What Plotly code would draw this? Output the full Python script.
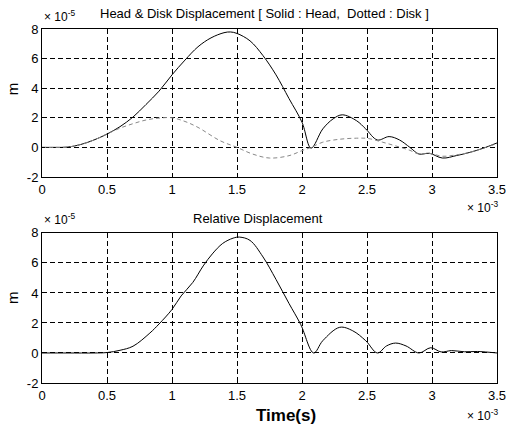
import plotly.graph_objects as go

# time in units of 1e-3 s, displacement in units of 1e-5 m
head_t = [0, 0.1, 0.2, 0.3, 0.4, 0.5, 0.6, 0.7, 0.8, 0.9, 1.0, 1.1, 1.2, 1.3, 1.4, 1.45,
          1.5, 1.6, 1.7, 1.8, 1.9, 2.0, 2.07, 2.16, 2.24, 2.31, 2.42, 2.49, 2.58, 2.67,
          2.75, 2.83, 2.9, 2.98, 3.08, 3.19, 3.29, 3.39, 3.5]
head_y = [0, 0, 0.02, 0.2, 0.5, 0.9, 1.4, 2.05, 2.9, 3.8, 4.9, 5.9, 6.8, 7.4, 7.75, 7.8,
          7.7, 7.2, 6.2, 4.9, 3.3, 1.7, -0.05, 1.25, 1.93, 2.2, 1.8, 1.25, 0.5, 0.73,
          0.5, 0.0, -0.45, -0.4, -0.72, -0.55, -0.34, -0.07, 0.3]

disk_t = [0, 0.1, 0.2, 0.3, 0.4, 0.5, 0.6, 0.7, 0.8, 0.9, 1.0, 1.1, 1.2, 1.37, 1.5,
          1.62, 1.75, 1.9, 2.0, 2.07, 2.16, 2.29, 2.42, 2.51, 2.62, 2.72, 2.83, 2.9,
          2.98, 3.08, 3.19, 3.29, 3.39, 3.5]
disk_y = [0, 0, 0.02, 0.2, 0.5, 0.9, 1.3, 1.6, 1.85, 1.98, 2.0, 1.75, 1.35, 0.45, 0.0,
          -0.45, -0.72, -0.56, -0.22, 0.0, 0.35, 0.55, 0.62, 0.6, 0.35, 0.1, -0.2, -0.45,
          -0.4, -0.6, -0.5, -0.34, -0.07, 0.25]

rel_t = [0, 0.2, 0.4, 0.5, 0.6, 0.7, 0.83, 0.9, 1.0, 1.07, 1.16, 1.24, 1.31, 1.39, 1.47,
         1.52, 1.6, 1.7, 1.8, 1.9, 1.99, 2.09, 2.16, 2.29, 2.39, 2.49, 2.58, 2.65, 2.72,
         2.8, 2.9, 2.99, 3.07, 3.15, 3.25, 3.35, 3.5]
rel_y = [0, 0, 0, 0.03, 0.18, 0.45, 1.33, 1.93, 2.9, 3.8, 4.7, 5.8, 6.6, 7.3, 7.65,
         7.72, 7.5, 6.4, 4.9, 3.3, 1.9, 0.0, 0.82, 1.71, 1.48, 0.82, 0.0, 0.47, 0.66,
         0.47, 0.0, 0.35, 0.07, 0.16, 0.08, 0.1, 0.0]

x_ticks = [0, 0.5, 1, 1.5, 2, 2.5, 3, 3.5]
x_labels = ['0', '0.5', '1', '1.5', '2', '2.5', '3', '3.5']
y_ticks = [-2, 0, 2, 4, 6, 8]
y_labels = ['-2', '0', '2', '4', '6', '8']

FONT = 'Liberation Sans, Arial, sans-serif'

fig = go.Figure()
fig.add_trace(go.Scatter(x=head_t, y=head_y, mode='lines', line=dict(color='black', width=1),
                         xaxis='x', yaxis='y', line_shape='spline'))
fig.add_trace(go.Scatter(x=disk_t, y=disk_y, mode='lines',
                         line=dict(color='#888888', width=1, dash='4px,3px'),
                         xaxis='x', yaxis='y', line_shape='spline'))
fig.add_trace(go.Scatter(x=rel_t, y=rel_y, mode='lines', line=dict(color='black', width=1),
                         xaxis='x2', yaxis='y2', line_shape='spline'))

axis_common = dict(showline=True, linecolor='black', linewidth=1, mirror=True,
                   showgrid=True, gridcolor='black', gridwidth=1, griddash='5px,3px',
                   zeroline=False, ticks='inside', ticklen=3, tickcolor='black',
                   automargin=False,
                   tickfont=dict(size=13, color='black', family=FONT))

fig.update_layout(
    width=511, height=424,
    margin=dict(l=42, r=14, t=29, b=41),
    paper_bgcolor='white', plot_bgcolor='white',
    showlegend=False,
    xaxis=dict(domain=[0, 1], anchor='y', range=[0, 3.5], tickvals=x_ticks,
               ticktext=x_labels, **axis_common),
    yaxis=dict(domain=[0.582, 1], anchor='x', range=[-2, 8], tickvals=y_ticks,
               ticktext=y_labels, **axis_common),
    xaxis2=dict(domain=[0, 1], anchor='y2', range=[0, 3.5], tickvals=x_ticks,
                ticktext=x_labels, **axis_common),
    yaxis2=dict(domain=[0, 0.424], anchor='x2', range=[-2, 8], tickvals=y_ticks,
                ticktext=y_labels, **axis_common),
)

notes = [
    ('Head & Disk Displacement [ Solid : Head,  Dotted : Disk ]', 0.488, 1.043, 'center', 13),
    ('Relative Displacement', 0.475, 0.466, 'center', 13),
    ('× 10<sup>-5</sup>', 0.0, 1.038, 'left', 12),
    ('× 10<sup>-5</sup>', 0.0, 0.462, 'left', 12),
    ('× 10<sup>-3</sup>', 1.007, 0.497, 'right', 12),
    ('× 10<sup>-3</sup>', 1.007, -0.09, 'right', 12),
]
for text, x, y, anchor, size in notes:
    fig.add_annotation(text=text, x=x, y=y, xref='paper', yref='paper', showarrow=False,
                       xanchor=anchor, yanchor='middle',
                       font=dict(size=size, color='black', family=FONT))

fig.add_annotation(text='<b>Time(s)</b>', x=0.536, y=-0.093, xref='paper', yref='paper',
                   showarrow=False, xanchor='center', yanchor='middle',
                   font=dict(size=17, color='black', family=FONT))
for y in [0.83, 0.24]:
    fig.add_annotation(text='m', x=0, y=y, xref='paper', yref='paper', showarrow=False,
                       textangle=-90, xanchor='center', yanchor='middle', xshift=-30,
                       font=dict(size=15, color='black', family=FONT))

# drop the default page margin so the figure sits at the window's corner
fig.write_html("out.html", config={'displayModeBar': False},
               post_script="document.body.style.margin='0';")
